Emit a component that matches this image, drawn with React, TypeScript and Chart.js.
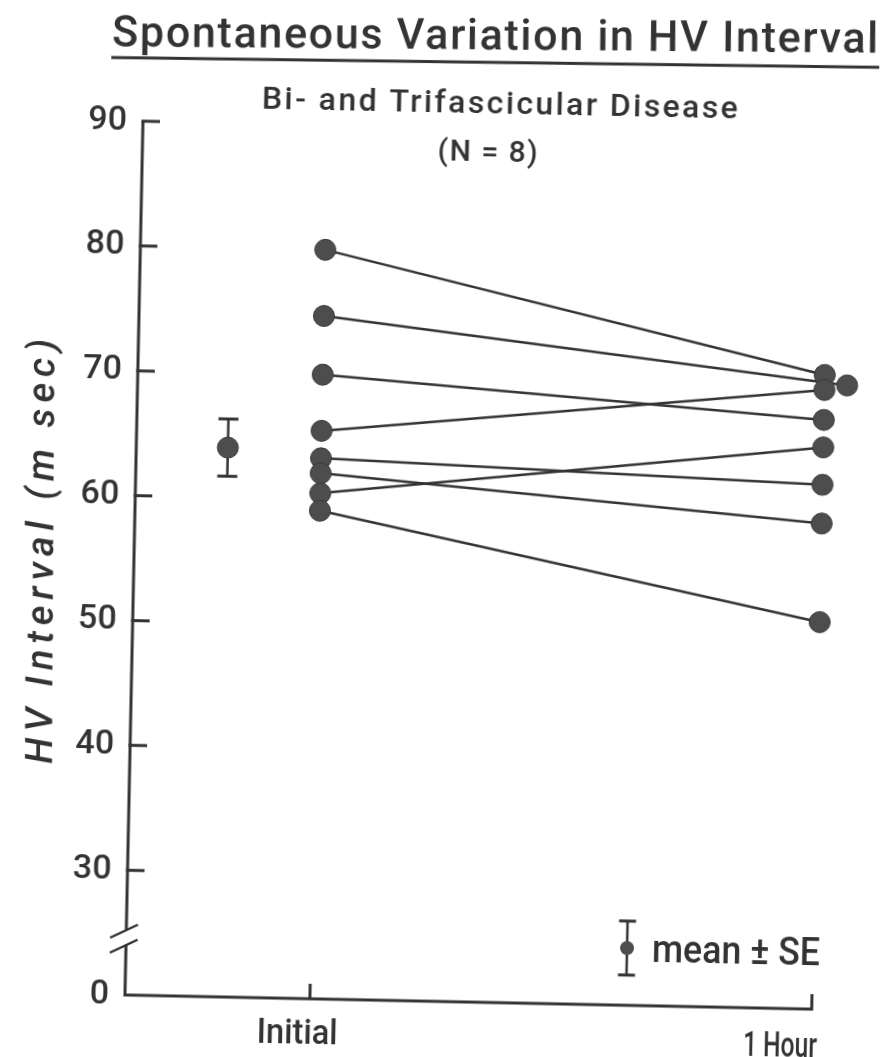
import React, { useEffect, useRef } from 'react';
import { Chart, registerables } from 'chart.js';

Chart.register(...registerables);

// ---------- data ----------
const timeLabels = ['Initial', '1 Hour'];
const initialHV = [80.0, 74.7, 70.0, 65.5, 63.3, 62.1, 60.5, 59.1];
const oneHourHV = [70.8, 70.0, 67.2, 69.6, 62.0, 58.9, 65.0, 51.0];
const hourJitter = [0, 0.045, 0, 0, 0, 0, 0, 0];
const meanHV = [64.0];
const seHV = [2.3];
const meanPosition = [-0.186];
const yTickValues = [20, 30, 40, 50, 60, 70, 80, 90];
const yTickLabels = ['0', '30', '40', '50', '60', '70', '80', '90'];
const titleText = 'Spontaneous Variation in HV Interval';
const subtitleLines = ['Bi- and Trifascicular Disease', '(N = 8)'];
const yAxisTitle = 'HV Interval (m sec)';
const legendText = 'mean ± SE';

// ---------- style ----------
const INK = '#333333';
const DOT = '#4d4d4d';
const FONT = 'Roboto, "DejaVu Sans", sans-serif';
const WEIGHT = '500';

type Align = 'left' | 'center' | 'right';

function fitText(
  ctx: CanvasRenderingContext2D,
  text: string,
  x: number,
  y: number,
  size: number,
  targetW: number,
  align: Align,
  angle = 0,
  italic = false
) {
  ctx.save();
  ctx.font = `${italic ? 'italic ' : ''}${WEIGHT} ${size}px ${FONT}`;
  ctx.fillStyle = INK;
  ctx.textBaseline = 'alphabetic';
  ctx.textAlign = 'left';
  ctx.translate(x, y);
  if (angle) ctx.rotate(angle);
  const n = [...text].length;
  const w = ctx.measureText(text).width;
  if (w > targetW) {
    const sx = targetW / w;
    ctx.scale(sx, 1);
    const off = align === 'center' ? -w / 2 : align === 'right' ? -w : 0;
    ctx.fillText(text, off, 0);
  } else {
    if (n > 1) (ctx as any).letterSpacing = `${(targetW - w) / (n - 1)}px`;
    const off = align === 'center' ? -targetW / 2 : align === 'right' ? -targetW : 0;
    ctx.fillText(text, off, 0);
  }
  ctx.restore();
}

const decorPlugin = {
  id: 'decor',
  beforeDatasetsDraw(chart: any) {
    const { ctx, chartArea: ca, scales } = chart;
    const xs = scales.x;
    const ys = scales.y;
    const L = ca.left;
    const B = ys.getPixelForValue(yTickValues[0]);
    const T = ys.getPixelForValue(yTickValues[yTickValues.length - 1]);
    const breakTop = B - 65;
    const breakBot = B - 50;
    const xEnd = xs.getPixelForValue(1);
    ctx.save();
    ctx.strokeStyle = INK;
    ctx.lineWidth = 3;
    ctx.lineCap = 'butt';
    ctx.lineJoin = 'miter';
    ctx.beginPath();
    ctx.moveTo(L, T);
    ctx.lineTo(L, breakTop);
    ctx.moveTo(L, breakBot);
    ctx.lineTo(L, B);
    ctx.lineTo(xEnd, B);
    ctx.lineTo(xEnd, B - 15);
    ctx.stroke();
    ctx.beginPath();
    yTickValues.forEach((v) => {
      if (v === yTickValues[0]) return;
      const py = ys.getPixelForValue(v);
      ctx.moveTo(L - 1.5, py);
      ctx.lineTo(L + 17, py);
    });
    const p0 = xs.getPixelForValue(0);
    ctx.moveTo(p0, B);
    ctx.lineTo(p0, B - 15);
    ctx.stroke();
    // axis break
    ctx.lineWidth = 2.5;
    ctx.beginPath();
    [breakTop, breakBot].forEach((yc) => {
      ctx.moveTo(L - 16, yc + 8);
      ctx.lineTo(L + 11.5, yc - 5.5);
    });
    ctx.stroke();
    // mean +- SE bar
    const mx = xs.getPixelForValue(meanPosition[0]);
    const top = ys.getPixelForValue(meanHV[0] + seHV[0]);
    const bot = ys.getPixelForValue(meanHV[0] - seHV[0]);
    ctx.lineWidth = 2.5;
    ctx.beginPath();
    ctx.moveTo(mx, top);
    ctx.lineTo(mx, bot);
    ctx.stroke();
    ctx.lineWidth = 3;
    ctx.beginPath();
    ctx.moveTo(mx - 10, top);
    ctx.lineTo(mx + 10, top);
    ctx.moveTo(mx - 10, bot);
    ctx.lineTo(mx + 10, bot);
    ctx.stroke();
    ctx.restore();
  },
  afterDraw(chart: any) {
    const { ctx, chartArea: ca, scales } = chart;
    const xs = scales.x;
    const ys = scales.y;
    const L = ca.left;
    const B = ys.getPixelForValue(yTickValues[0]);
    ctx.save();
    // title
    fitText(ctx, titleText, 484.5, 49, 43, 766, 'center', -0.012);
    ctx.save();
    ctx.translate(485, 62);
    ctx.rotate(-0.008);
    ctx.strokeStyle = INK;
    ctx.lineWidth = 3;
    ctx.beginPath();
    ctx.moveTo(-384, 0);
    ctx.lineTo(384, 0);
    ctx.stroke();
    ctx.restore();
    // subtitle
    fitText(ctx, subtitleLines[0], 490.5, 113, 32, 476, 'center');
    fitText(ctx, subtitleLines[1], 479.3, 161, 30, 100, 'center');
    // y axis title
    fitText(ctx, yAxisTitle, 53, 560, 38, 425, 'center', -Math.PI / 2 - 0.015, true);
    // x labels
    fitText(ctx, timeLabels[0], xs.getPixelForValue(0) - 12, B + 45, 35, 81, 'center');
    fitText(ctx, timeLabels[1], xs.getPixelForValue(1) - 31, B + 48, 35, 74, 'center');
    // legend
    const lx = L + 501;
    const ly = B - 57.3;
    ctx.strokeStyle = INK;
    ctx.lineWidth = 2.5;
    ctx.beginPath();
    ctx.moveTo(lx, ly - 27);
    ctx.lineTo(lx, ly + 27);
    ctx.stroke();
    ctx.lineWidth = 3;
    ctx.beginPath();
    ctx.moveTo(lx - 8.5, ly - 27);
    ctx.lineTo(lx + 8.5, ly - 27);
    ctx.moveTo(lx - 8.5, ly + 27);
    ctx.lineTo(lx + 8.5, ly + 27);
    ctx.stroke();
    ctx.fillStyle = DOT;
    ctx.beginPath();
    ctx.arc(lx, ly, 7, 0, Math.PI * 2);
    ctx.fill();
    fitText(ctx, legendText, L + 526, B - 44, 38, 168, 'left');
    ctx.restore();
  },
};

export default function App() {
  const ref = useRef<HTMLCanvasElement>(null);
  useEffect(() => {
    const pointData = [
      ...initialHV.map((v) => ({ x: 0, y: v })),
      ...oneHourHV.map((v, i) => ({ x: 1 + hourJitter[i], y: v })),
      { x: meanPosition[0], y: meanHV[0] },
    ];
    const lineSets = initialHV.map((v, i) => ({
      label: `Subject ${i + 1}`,
      data: [
        { x: 0, y: v },
        { x: 1 + hourJitter[i], y: oneHourHV[i] },
      ],
      showLine: true,
      borderColor: INK,
      borderWidth: 2.5,
      pointRadius: 0,
      clip: false as any,
    }));
    const chart = new Chart(ref.current!, {
      type: 'scatter',
      data: {
        datasets: [
          {
            label: 'HV',
            data: pointData,
            showLine: false,
            pointRadius: 10.5,
            pointBackgroundColor: DOT,
            pointBorderColor: '#3a3a3a',
            pointBorderWidth: 1,
            clip: false as any,
          },
          ...lineSets,
        ],
      },
      options: {
        responsive: false,
        animation: false,
        events: [],
        layout: { padding: { top: 128, right: 36, left: 0, bottom: 0 } },
        plugins: {
          legend: { display: false },
          tooltip: { enabled: false },
          title: { display: false },
        },
        scales: {
          x: {
            type: 'linear',
            min: -0.3685,
            max: 1.06,
            ticks: { display: false },
            grid: { display: false, drawTicks: false },
            border: { display: false },
            afterFit: (s: any) => {
              s.height = 55;
            },
          },
          y: {
            type: 'linear',
            min: 20,
            max: 90,
            afterBuildTicks: (s: any) => {
              s.ticks = yTickValues.map((v) => ({ value: v }));
            },
            ticks: {
              padding: 16,
              color: INK,
              font: { family: FONT, size: 34, weight: WEIGHT as any },
              callback: (v: any) => yTickLabels[yTickValues.indexOf(Number(v))] ?? '',
            },
            grid: { display: false, drawTicks: false },
            border: { display: false },
            afterFit: (s: any) => {
              s.width = 134;
            },
          },
        },
      },
      plugins: [decorPlugin],
    });
    return () => chart.destroy();
  }, []);
  return (
    <div
      style={{
        position: 'fixed',
        left: 0,
        top: 0,
        width: 887,
        height: 1057,
        overflow: 'hidden',
        background: '#ffffff',
      }}
    >
      <div
        style={{
          position: 'absolute',
          left: 0,
          top: 0,
          width: 887,
          height: 1057,
          transform: 'rotate(1.18deg)',
          transformOrigin: '470px 560px',
        }}
      >
        <canvas ref={ref} width={887} height={1057} style={{ display: 'block' }} />
      </div>
    </div>
  );
}
